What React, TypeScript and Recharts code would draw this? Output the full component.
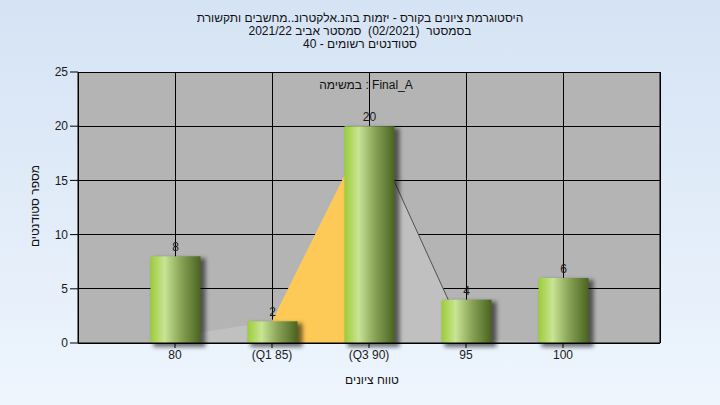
import React from 'react';
import {
  ComposedChart, Bar, Area, XAxis, YAxis, CartesianGrid, LabelList,
} from 'recharts';

// grade buckets and how many students fell into each
const grades = ['80', '(Q1 85)', '(Q3 90)', '95', '100'];
const students = [8, 2, 20, 4, 6];

// the shaded distribution drawn behind the bars
const curve = [0.6, 2, 20, 0.4, 0];
const quartileBand = [null, 2, 20, null, null];
const tailLine = [null, null, 20, 0.4, null];

const yTicks = [0, 5, 10, 15, 20, 25];

const titleLines = [
  'היסטוגרמת ציונים בקורס - יזמות בהנ.אלקטרונ..מחשבים ותקשורת',
  'בסמסטר  (02/2021)  סמסטר אביב 2021/22',
  'סטודנטים רשומים - 40',
];

const data = grades.map((g, i) => ({
  x: i + 1,
  grade: g,
  students: students[i],
  curve: curve[i],
  band: quartileBand[i],
  tail: tailLine[i],
}));

const FONT = "'Liberation Sans', 'DejaVu Sans', Arial, sans-serif";
const tickStyle = { fill: '#1a1a1a', fontSize: 12, fontFamily: FONT };

const ShadowBar = (props: any) => {
  const { x, y, width, height } = props;
  if (!height) return null;
  return (
    <g>
      <rect x={x + 3} y={y + 2} width={width + 2} height={height + 2} fill="#000" opacity={0.55} filter="url(#barShadow)" />
      <rect x={x} y={y} width={width} height={height} fill="url(#barGrad)" />
    </g>
  );
};

export default function App() {
  return (
    <div
      style={{
        position: 'absolute', left: 0, top: 0, width: 720, height: 405,
        background: 'linear-gradient(#d5e3f4, #eef5fd)', fontFamily: FONT, overflow: 'hidden',
      }}
    >
      {/* titel */}
      <div style={{ position: 'absolute', top: 12, left: 0, width: 720, textAlign: 'center', fontSize: 12, lineHeight: '13px', color: '#111' }}>
        {titleLines.map((t) => (
          <div key={t} dir="rtl" style={{ whiteSpace: 'pre' }}>{t}</div>
        ))}
      </div>

      <ComposedChart
        width={720}
        height={405}
        data={data}
        margin={{ top: 72, right: 20, bottom: 32, left: 38 }}
      >
        <defs>
          <linearGradient id="barGrad" x1="0" y1="0" x2="1" y2="0">
            <stop offset="0%" stopColor="#9ccc38" />
            <stop offset="28%" stopColor="#c8e494" />
            <stop offset="60%" stopColor="#8aa558" />
            <stop offset="100%" stopColor="#4a6420" />
          </linearGradient>
          <filter id="barShadow" x="-20%" y="-20%" width="140%" height="140%">
            <feGaussianBlur stdDeviation="2" />
          </filter>
        </defs>
        <CartesianGrid yAxisId="left" stroke="#000" strokeWidth={1} fill="#b4b4b4" fillOpacity={1} shapeRendering="crispEdges" />
        <XAxis
          dataKey="x"
          type="number"
          domain={[0, 6]}
          ticks={[1, 2, 3, 4, 5]}
          tickFormatter={(v: number) => grades[v - 1] ?? ''}
          tick={tickStyle}
          tickSize={5}
          axisLine={{ stroke: '#000' }}
          tickLine={{ stroke: '#000' }}
          height={30}
        />
        <YAxis
          yAxisId="left"
          domain={[0, 25]}
          ticks={yTicks}
          tick={tickStyle}
          tickSize={8}
          tickMargin={2}
          axisLine={{ stroke: '#000' }}
          tickLine={{ stroke: '#000' }}
          width={40}
        />
        <YAxis
          yAxisId="right"
          orientation="right"
          domain={[0, 25]}
          ticks={yTicks}
          tick={tickStyle}
          tickSize={8}
          tickMargin={2}
          axisLine={{ stroke: '#000' }}
          tickLine={{ stroke: '#000' }}
          width={40}
        />
        <Area yAxisId="left" type="linear" dataKey="curve" stroke="none" fill="#c0c0c0" fillOpacity={1} isAnimationActive={false} activeDot={false} dot={false} />
        <Area yAxisId="left" type="linear" dataKey="band" stroke="none" fill="#fdca58" fillOpacity={1} isAnimationActive={false} activeDot={false} dot={false} />
        <Area yAxisId="left" type="linear" dataKey="tail" stroke="#505050" strokeWidth={1} fill="none" fillOpacity={0} isAnimationActive={false} activeDot={false} dot={false} />
        <Bar yAxisId="left" dataKey="students" barSize={50} shape={ShadowBar} isAnimationActive={false}>
          <LabelList dataKey="students" position="top" offset={5} style={{ fill: '#1a1a1a', fontSize: 12, fontFamily: FONT }} />
        </Bar>
      </ComposedChart>

      {/* legend text inside the plot */}
      <div style={{ position: 'absolute', top: 78, left: 266, width: 200, textAlign: 'center', fontSize: 12, color: '#111' }}>
        במשימה : Final_A
      </div>

      {/* axis titles */}
      <div style={{ position: 'absolute', top: 373, left: 272, width: 200, textAlign: 'center', fontSize: 12, color: '#111' }}>
        טווח ציונים
      </div>
      <div
        style={{
          position: 'absolute', left: -65, top: 199, width: 200, textAlign: 'center', fontSize: 12, color: '#111',
          transform: 'rotate(-90deg)',
        }}
      >
        מספר סטודנטים
      </div>
    </div>
  );
}
